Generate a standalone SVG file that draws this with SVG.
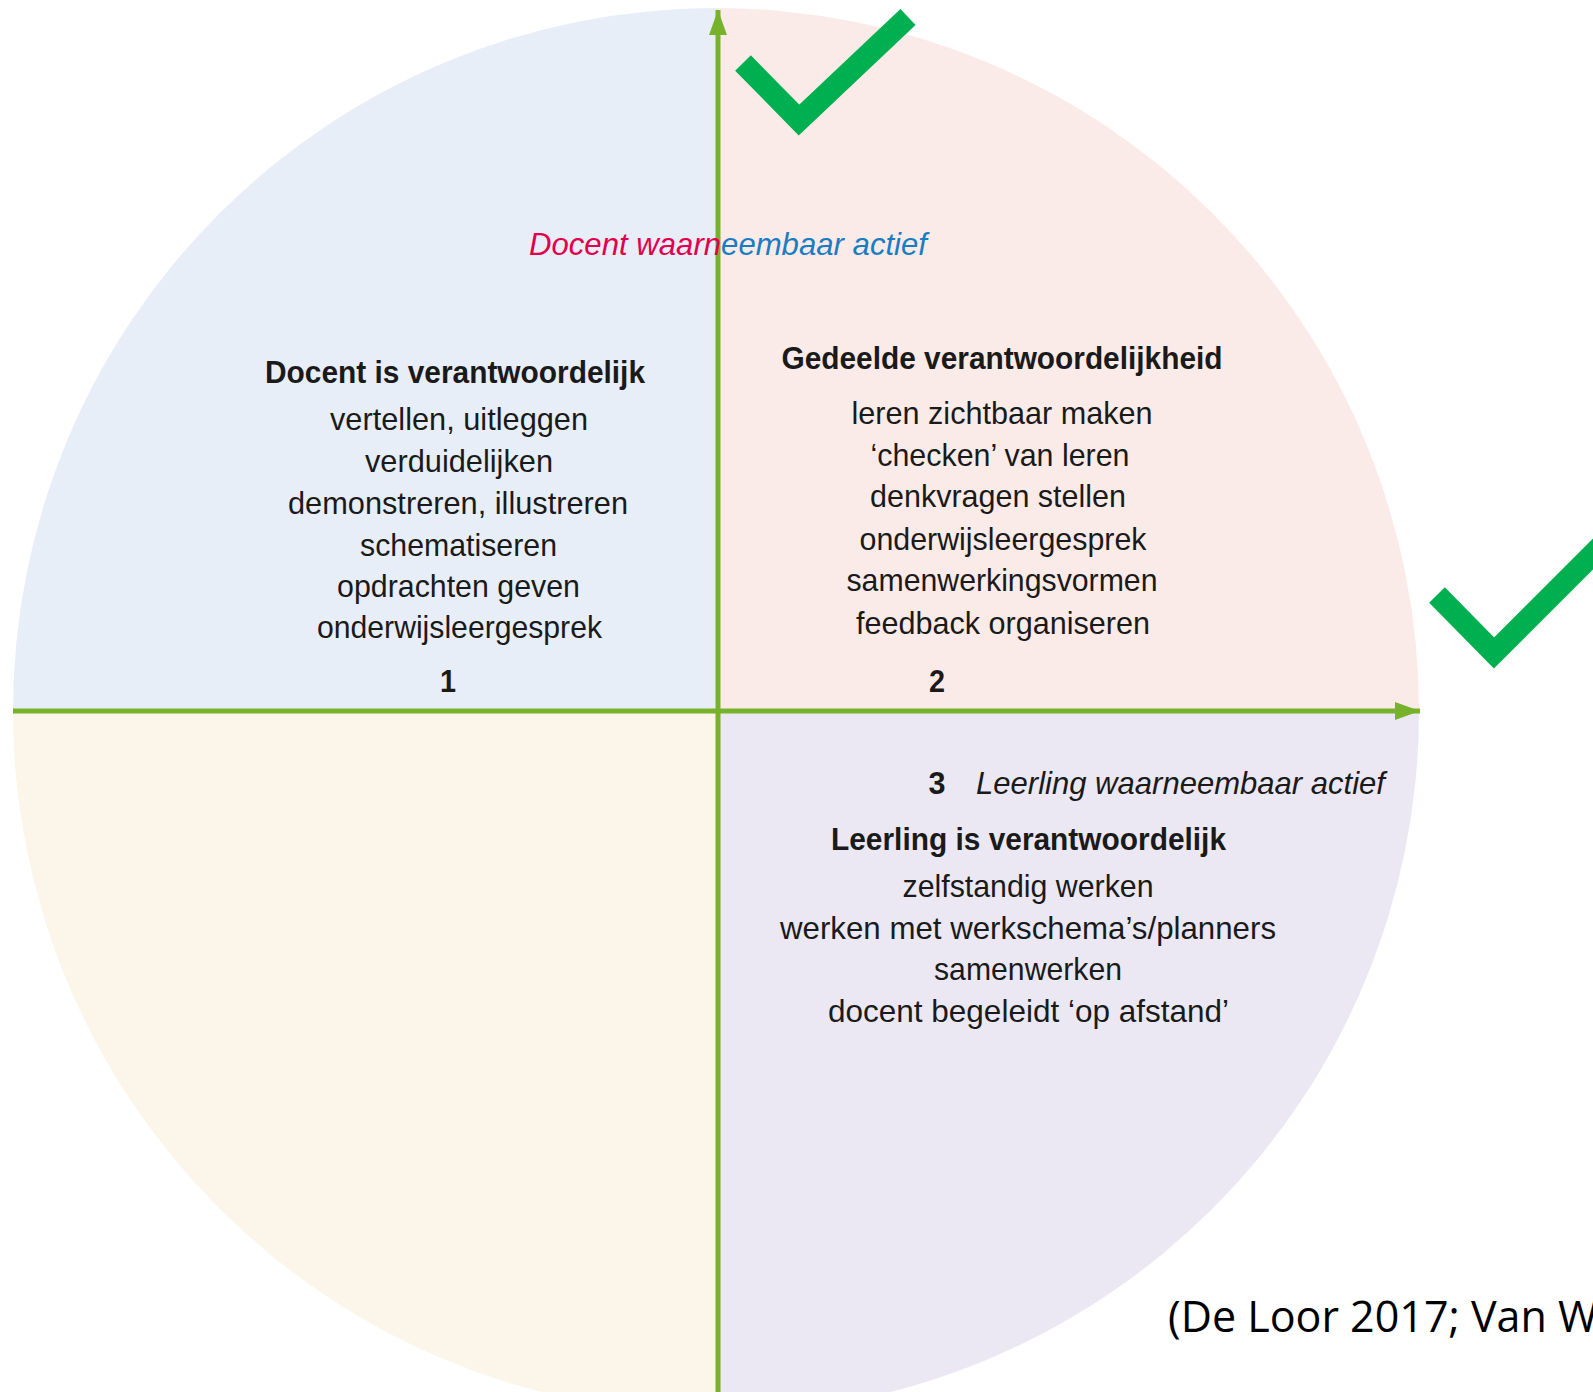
<svg xmlns="http://www.w3.org/2000/svg" width="1593" height="1392" viewBox="0 0 1593 1392">
<style>
.t{font-family:"Liberation Sans",Arial,sans-serif;font-size:32px;fill:#1a1a1a;text-anchor:middle}
.b{font-weight:bold}
.i{font-style:italic;font-size:32px;text-anchor:start}
.axis{stroke:#77B22B;stroke-width:5;fill:none}
.check{stroke:#00B050;stroke-width:22;fill:none;stroke-linecap:butt;stroke-linejoin:miter}
.cite{font-family:"Open Sans","Liberation Sans",sans-serif;font-size:43px;fill:#000}
</style>
<defs>
<clipPath id="disc"><circle cx="716" cy="711" r="703"/></clipPath>
<marker id="ah" viewBox="0 0 25 18" refX="25" refY="9" markerWidth="25" markerHeight="18" markerUnits="userSpaceOnUse" orient="auto"><path d="M0,0 L25,9 L0,18 Z" fill="#77B22B"/></marker>
</defs>
<rect width="1593" height="1392" fill="#ffffff"/>
<g id="quadrants" clip-path="url(#disc)">
<rect x="0" y="0" width="718" height="711" fill="#E8EEF8"/>
<rect x="718" y="0" width="875" height="711" fill="#FBEBE8"/>
<rect x="0" y="711" width="718" height="681" fill="#FCF5E9"/>
<rect x="718" y="711" width="875" height="681" fill="#EBE8F3"/>
</g>
<g id="connectors">
<line class="axis" x1="718" y1="1392" x2="718" y2="10" marker-end="url(#ah)"/>
<line class="axis" x1="13" y1="711" x2="1420" y2="711" marker-end="url(#ah)"/>
</g>
<g id="label-top">
<text class="t i" x="529" y="255" textLength="398" lengthAdjust="spacingAndGlyphs"><tspan fill="#E0004D">Docent waarn</tspan><tspan fill="#1A7DC4">eembaar actief</tspan></text>
</g>
<g id="q1">
<text class="t b" x="455" y="383" textLength="380" lengthAdjust="spacingAndGlyphs">Docent is verantwoordelijk</text>
<text class="t" x="459" y="430" textLength="258" lengthAdjust="spacingAndGlyphs">vertellen, uitleggen</text>
<text class="t" x="459" y="472" textLength="188" lengthAdjust="spacingAndGlyphs">verduidelijken</text>
<text class="t" x="458" y="514" textLength="340" lengthAdjust="spacingAndGlyphs">demonstreren, illustreren</text>
<text class="t" x="458.5" y="556" textLength="197" lengthAdjust="spacingAndGlyphs">schematiseren</text>
<text class="t" x="458.5" y="597" textLength="243" lengthAdjust="spacingAndGlyphs">opdrachten geven</text>
<text class="t" x="459.5" y="638" textLength="285" lengthAdjust="spacingAndGlyphs">onderwijsleergesprek</text>
<text class="t b" x="448" y="692" textLength="16" lengthAdjust="spacingAndGlyphs">1</text>
</g>
<g id="q2">
<text class="t b" x="1002" y="369" textLength="441" lengthAdjust="spacingAndGlyphs">Gedeelde verantwoordelijkheid</text>
<text class="t" x="1002" y="424" textLength="301" lengthAdjust="spacingAndGlyphs">leren zichtbaar maken</text>
<text class="t" x="1000" y="466" textLength="259" lengthAdjust="spacingAndGlyphs">‘checken’ van leren</text>
<text class="t" x="998" y="507" textLength="256" lengthAdjust="spacingAndGlyphs">denkvragen stellen</text>
<text class="t" x="1003" y="550" textLength="287" lengthAdjust="spacingAndGlyphs">onderwijsleergesprek</text>
<text class="t" x="1002" y="591" textLength="311" lengthAdjust="spacingAndGlyphs">samenwerkingsvormen</text>
<text class="t" x="1003" y="634" textLength="294" lengthAdjust="spacingAndGlyphs">feedback organiseren</text>
<text class="t b" x="937" y="692" textLength="16" lengthAdjust="spacingAndGlyphs">2</text>
</g>
<g id="q3">
<text class="t b" x="937" y="794" textLength="17" lengthAdjust="spacingAndGlyphs">3</text>
<text class="t i" x="976" y="794" textLength="409" lengthAdjust="spacingAndGlyphs">Leerling waarneembaar actief</text>
<text class="t b" x="1028.5" y="850" textLength="395" lengthAdjust="spacingAndGlyphs">Leerling is verantwoordelijk</text>
<text class="t" x="1028" y="897" textLength="251" lengthAdjust="spacingAndGlyphs">zelfstandig werken</text>
<text class="t" x="1028" y="939" textLength="496" lengthAdjust="spacingAndGlyphs">werken met werkschema’s/planners</text>
<text class="t" x="1028" y="980" textLength="188" lengthAdjust="spacingAndGlyphs">samenwerken</text>
<text class="t" x="1028.5" y="1022" textLength="401" lengthAdjust="spacingAndGlyphs">docent begeleidt ‘op afstand’</text>
</g>
<g id="check-top">
<path class="check" d="M743,63 L799,120 L908,17"/>
</g>
<g id="check-right">
<path class="check" d="M1437,595 L1494,653 L1640,507"/>
</g>
<g id="citation">
<text class="cite" x="1168" y="1332">(De Loor 2017; Van W</text>
</g>
</svg>
